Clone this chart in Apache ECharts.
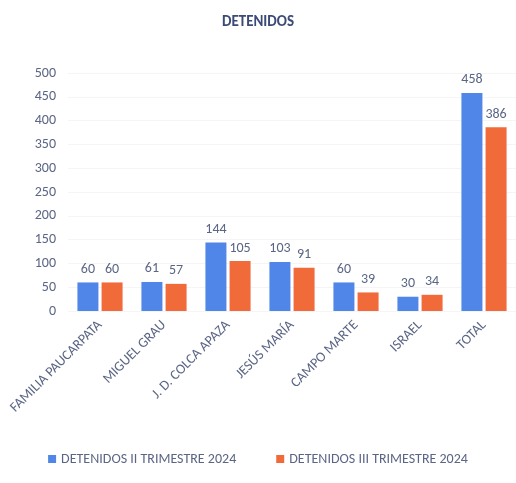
<!DOCTYPE html>
<html>
<head>
<meta charset="utf-8">
<script src="https://cdn.jsdelivr.net/npm/echarts@6/dist/echarts.min.js"></script>
<style>
  html, body { margin: 0; padding: 0; background: #fff; }
  #container { width: 516px; height: 483px; }
</style>
</head>
<body>
<div id="container"></div>
<script>
  const categories = ['FAMILIA PAUCARPATA', 'MIGUEL GRAU', 'J. D. COLCA APAZA', 'JESÚS MARÍA', 'CAMPO MARTE', 'ISRAEL', 'TOTAL'];
  const detenidos2 = [60, 61, 144, 103, 60, 30, 458];
  const detenidos3 = [60, 57, 105, 91, 39, 34, 386];
  const seriesNames = ['DETENIDOS II TRIMESTRE 2024', 'DETENIDOS III TRIMESTRE 2024'];

  const textColor = '#5b6585';
  const font = 'Calibri, Carlito, Lato, sans-serif';

  let chart = echarts.init(document.querySelector('#container'));
  chart.setOption({
    animation: false,
    textStyle: { fontFamily: font },
    title: {
      text: 'DETENIDOS',
      left: 'center',
      top: 10,
      textStyle: { color: '#3c4a78', fontSize: 15, fontWeight: 'bold', fontFamily: font }
    },
    legend: {
      bottom: 12,
      left: 'center',
      itemWidth: 8,
      itemHeight: 8,
      itemGap: 40,
      icon: 'rect',
      textStyle: { color: textColor, fontSize: 14 }
    },
    grid: { left: 68, right: 0, top: 73, bottom: 172, containLabel: false },
    xAxis: {
      type: 'category',
      data: categories,
      axisLine: { show: false },
      axisTick: { show: false },
      axisLabel: { rotate: 45, color: textColor, fontSize: 14, interval: 0, margin: 12 }
    },
    yAxis: {
      type: 'value',
      min: 0,
      max: 500,
      interval: 50,
      axisLine: { show: false },
      axisTick: { show: false },
      axisLabel: { color: textColor, fontSize: 14, margin: 12 },
      splitLine: { lineStyle: { color: '#f5f5f5' } }
    },
    series: [
      {
        name: seriesNames[0],
        type: 'bar',
        data: detenidos2,
        barWidth: 21,
        barGap: '15%',
        itemStyle: { color: '#4f86e8' },
        label: { show: true, position: 'top', color: textColor, fontSize: 14, distance: 6 }
      },
      {
        name: seriesNames[1],
        type: 'bar',
        data: detenidos3,
        barWidth: 21,
        itemStyle: { color: '#f06a3a' },
        label: { show: true, position: 'top', color: textColor, fontSize: 14, distance: 6 }
      }
    ]
  });
</script>
</body>
</html>
